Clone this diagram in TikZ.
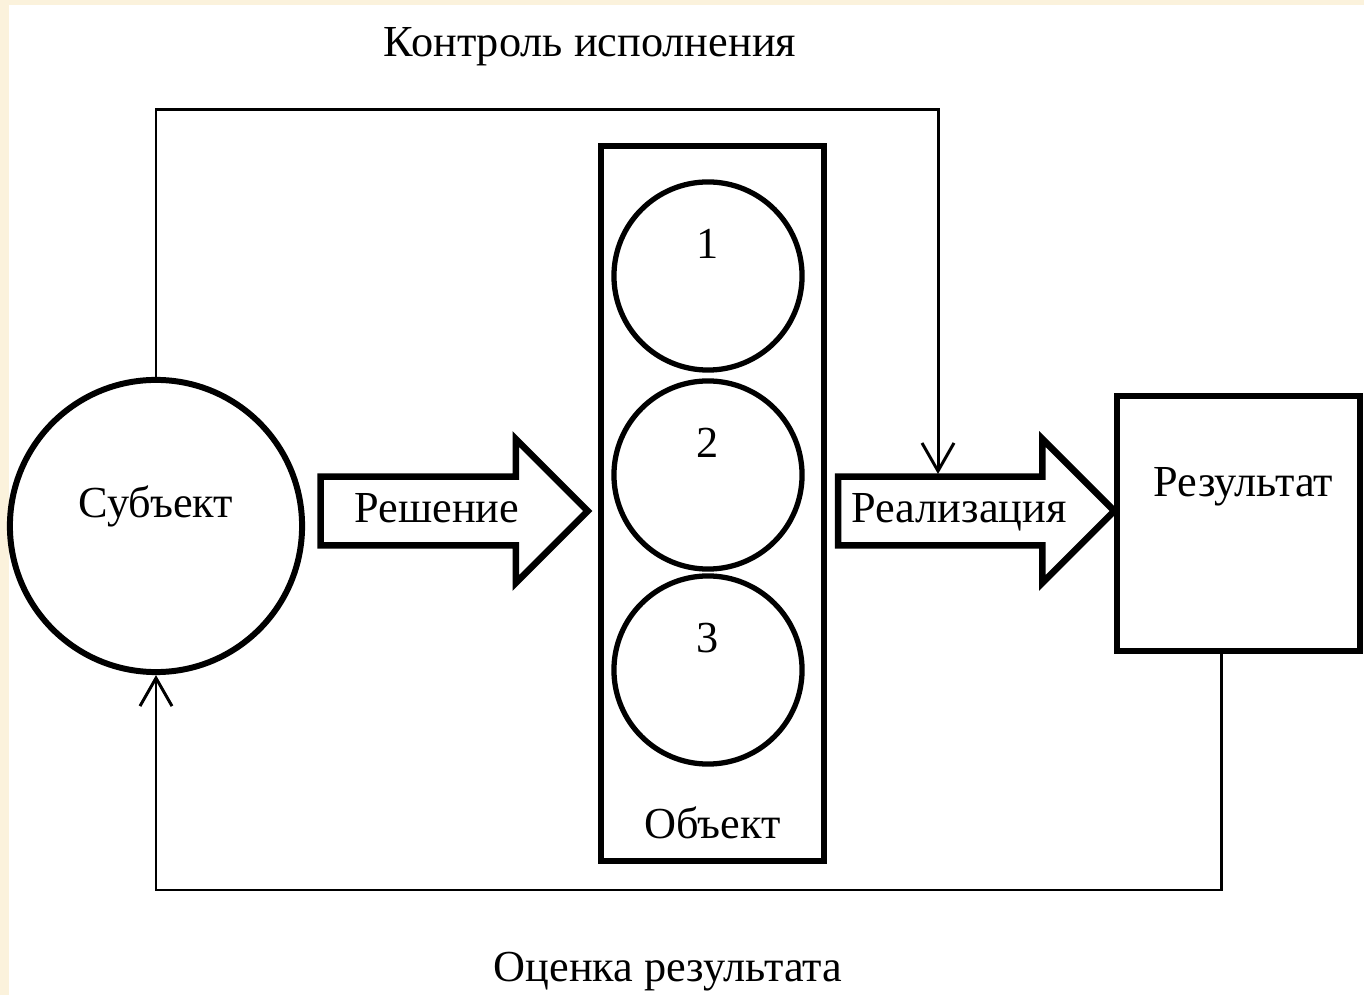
\documentclass[tikz,border=0pt]{standalone}
\usepackage{fontspec}
\setmainfont{Liberation Serif}
\usetikzlibrary{shapes.arrows,arrows.meta}
\definecolor{cream}{HTML}{FBF2DC}

\begin{document}
\begin{tikzpicture}[x=0.01cm, y=-0.01cm, font=\fontsize{12.6}{15}\selectfont,
	thickline/.style={line width=1.7pt},
	feed/.style={line width=0.85pt, -{Straight Barb[length=2.8mm, width=3.2mm]}},
	bigarrow/.style={single arrow, draw, line width=1.9pt, single arrow tip angle=90, single arrow head extend=0.375cm, text height=0.3cm, text depth=0.08cm, inner ysep=0.12cm, inner xsep=0pt},
	ball/.style={circle, draw, line width=1.5pt, minimum size=1.88cm, inner sep=0pt}]
	\useasboundingbox (0,0) rectangle (1364,995);
	\fill[cream] (0,0) rectangle (1364,995);
	\fill[white] (9,5) rectangle (1364,995);

	% subject, object and result
	\node (subj) [circle, draw, thickline, minimum size=2.92cm, inner sep=0pt, label={[yshift=0.2cm]center:Субъект}] at (156,526) {};
	\node (obj) [draw, thickline, minimum width=2.23cm, minimum height=7.15cm, inner sep=0pt, label={[anchor=center, yshift=0.41cm]south:Объект}] at (712.5,503.5) {};
	\node (c1) [ball, label={[yshift=0.32cm]center:1}] at (708,276) {};
	\node (c2) [ball, label={[yshift=0.32cm]center:2}] at (708,475) {};
	\node (c3) [ball, label={[yshift=0.32cm]center:3}] at (708,670) {};
	\node (res) [draw, thickline, minimum width=2.43cm, minimum height=2.55cm, inner sep=0pt, label={[xshift=0.05cm, yshift=0.37cm]center:Результат}] at (1238.5,523.5) {};

	% block arrows
	\node (dec) [bigarrow, minimum height=2.67cm] at (437,511) {Решение};
	\node (real) [bigarrow, minimum height=2.76cm] at (959,511) {Реализация};

	% feedback loops
	\node (ctrltext) at (590,47) {Контроль исполнения};
	\node (evaltext) at (668,972) {Оценка результата};
	\coordinate (ctrlrow) at (0,110);
	\coordinate (ctrlend) at (938,474);
	\coordinate (evalrow) at (0,890);
	\draw[feed] (subj.north) |- (ctrlend |- ctrlrow) -- (ctrlend);
	\draw[feed] ([xshift=-0.175cm]res.south) |- (subj.south |- evalrow) -- (subj.south);
\end{tikzpicture}
\end{document}
